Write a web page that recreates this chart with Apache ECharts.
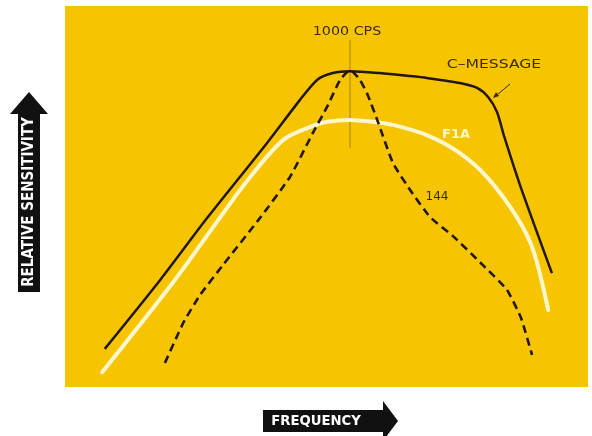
<!DOCTYPE html>
<html><head><meta charset="utf-8">
<script src="https://cdn.jsdelivr.net/npm/echarts@6/dist/echarts.min.js"></script>
<style>html,body{margin:0;padding:0;background:#fff}#c{width:592px;height:436px}</style>
</head><body><div id="c"></div>
<script>
// Relative frequency (0-100, arbitrary) vs relative sensitivity (0-100, arbitrary)
const cMessage = [[7.6,10.0],[18.2,28.1],[27.2,44.4],[38.6,64.0],[44.9,75.3],[48.2,80.6],[51.2,82.4],[54.5,82.9],[60.2,82.4],[66.0,81.6],[69.2,81.1],[75.5,79.8],[78.8,78.5],[80.9,76.1],[82.6,72.2],[83.9,66.1],[87.0,53.0],[93.1,29.9]];
const f1a = [[7.1,3.9],[21.0,28.1],[29.6,44.4],[35.4,55.1],[41.7,64.8],[46.8,68.2],[50.1,69.6],[54.5,70.1],[58.9,69.6],[62.7,68.8],[69.2,66.1],[75.5,61.4],[80.7,55.1],[86.4,44.6],[89.5,36.0],[92.4,20.2]];
const w144 = [[19.1,6.3],[22.6,16.8],[25.8,24.1],[30.2,32.0],[37.3,44.4],[43.0,55.1],[47.4,66.7],[50.1,73.5],[52.6,80.6],[54.5,83.2],[56.4,80.6],[57.9,76.6],[59.7,70.1],[62.7,58.8],[66.0,51.7],[69.8,44.6],[74.2,39.6],[79.9,32.0],[84.5,25.5],[87.2,18.1],[89.3,8.4]];
const refLine = [[54.5,62.7],[54.5,91.1]];
const labels = {ref:'1000 CPS', c:'C\u2013MESSAGE', f:'F1A', w:'144', yName:'RELATIVE SENSITIVITY', xName:'FREQUENCY'};

const chart = echarts.init(document.getElementById('c'), null, {renderer:'canvas'});
const txtColor = '#3c2a08';
const lineBlack = '#22170a';
chart.setOption({
  animation:false,
  backgroundColor:'#ffffff',
  grid:{left:65,top:6,width:523,height:381,show:true,backgroundColor:'#F6C400',borderWidth:0},
  xAxis:{type:'value',min:0,max:100,show:false},
  yAxis:{type:'value',min:0,max:100,show:false},
  series:[
    {name:'F1A',type:'line',data:f1a,smooth:0.32,showSymbol:false,lineStyle:{color:'#FFF7CC',width:4,cap:'round'},z:2},
    {name:'C-MESSAGE',type:'line',data:cMessage,smooth:0.25,showSymbol:false,lineStyle:{color:lineBlack,width:2.5},z:3},
    {name:'144',type:'line',data:w144,smooth:0.15,showSymbol:false,lineStyle:{color:lineBlack,width:2.6,type:[8,5]},z:4},
    {name:'ref',type:'line',data:refLine,showSymbol:false,lineStyle:{color:'#a8841c',width:1},z:1}
  ],
  graphic:[
    {type:'text',x:347,y:32,scaleX:1.1,style:{text:labels.ref,fontSize:13,fontFamily:'DejaVu Sans',fill:txtColor,align:'center',verticalAlign:'middle'}},
    {type:'text',x:494,y:65,scaleX:1.2,style:{text:labels.c,fontSize:13,fontFamily:'DejaVu Sans',fill:txtColor,align:'center',verticalAlign:'middle'}},
    {type:'line',shape:{x1:510,y1:84,x2:497,y2:95},style:{stroke:txtColor,lineWidth:1}},
    {type:'polygon',shape:{points:[[493,98],[496,92],[499,96]]},style:{fill:txtColor}},
    {type:'text',x:456,y:135,style:{text:labels.f,fontSize:13,fontWeight:'bold',fontFamily:'DejaVu Sans',fill:'#FFF7CC',align:'center',verticalAlign:'middle'}},
    {type:'text',x:437,y:197,style:{text:labels.w,fontSize:12,fontFamily:'DejaVu Sans',fill:txtColor,align:'center',verticalAlign:'middle'}},
    // y axis arrow
    {type:'polygon',shape:{points:[[18,292],[18,114],[10,114],[29,92],[48,114],[40,114],[40,292]]},style:{fill:'#111'}},
    {type:'text',x:29,y:202,rotation:Math.PI/2,scaleX:1.0,style:{text:labels.yName,fontSize:15,fontWeight:'bold',fontFamily:'DejaVu Sans Condensed',fill:'#fff',align:'center',verticalAlign:'middle'}},
    // x axis arrow
    {type:'polygon',shape:{points:[[263,410],[383,410],[383,401],[398,421],[383,441],[383,432],[263,432]]},style:{fill:'#111'}},
    {type:'text',x:316,y:421,scaleX:1.05,style:{text:labels.xName,fontSize:14,fontWeight:'bold',fontFamily:'DejaVu Sans Condensed',fill:'#fff',align:'center',verticalAlign:'middle'}}
  ]
});
</script></body></html>
